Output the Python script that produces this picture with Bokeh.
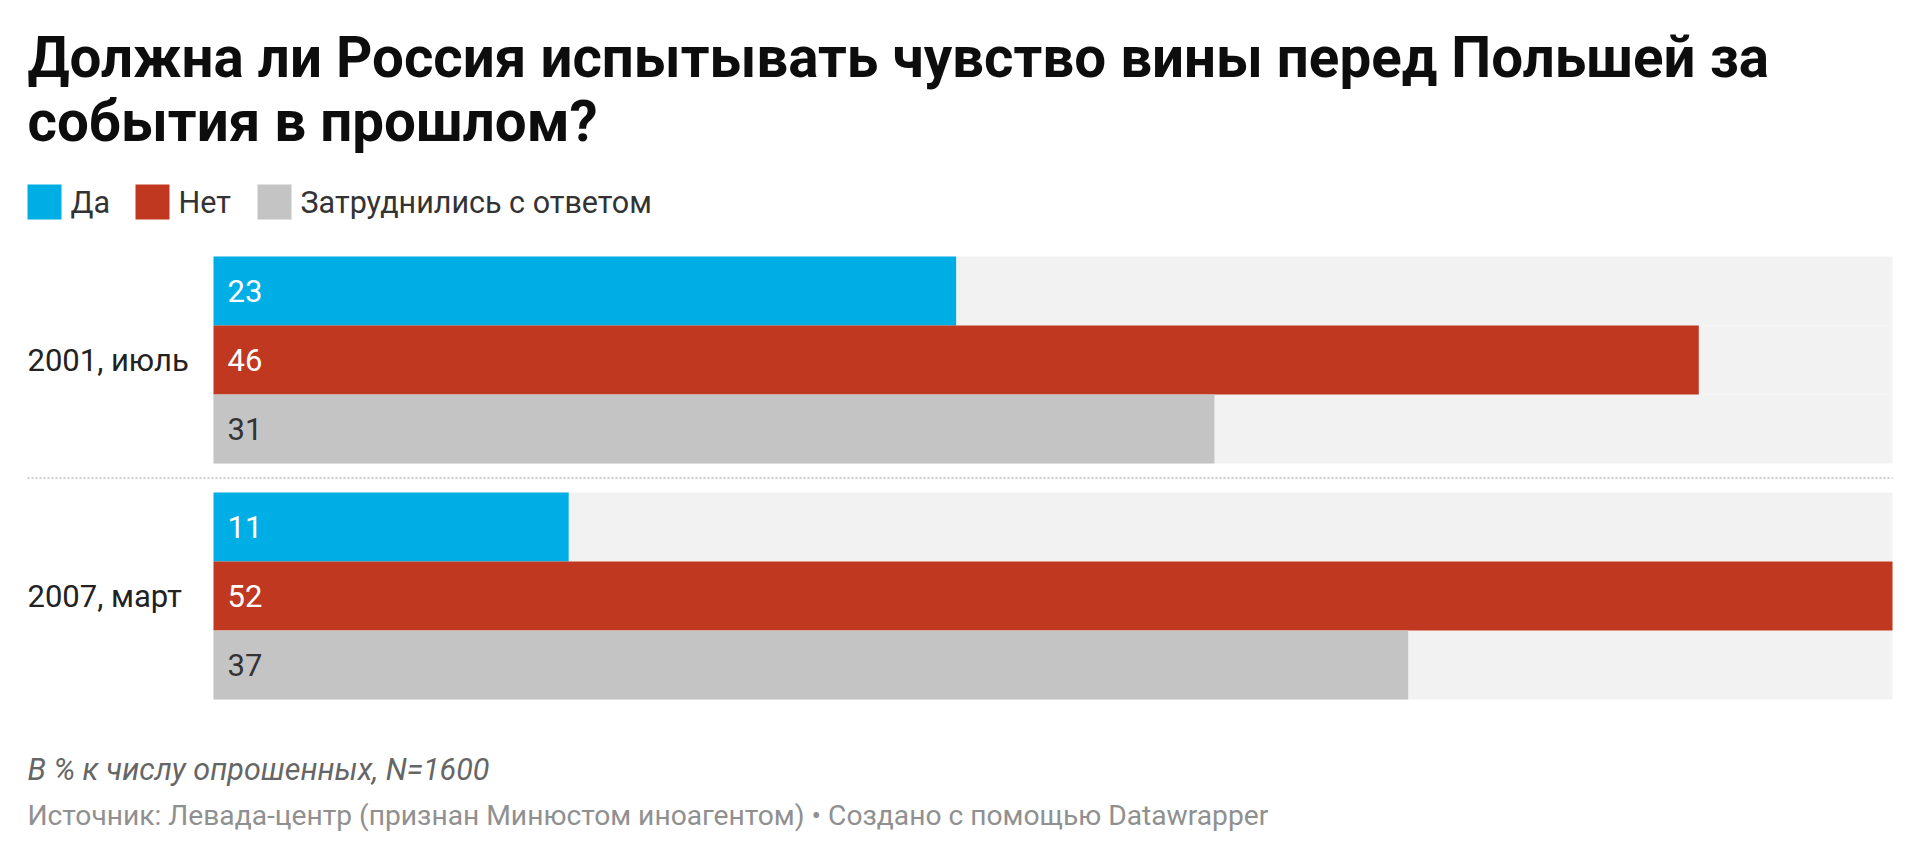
from bokeh.plotting import figure
from bokeh.models import ColumnDataSource, Range1d, Label, BoxAnnotation, Arrow
from bokeh.core.properties import value
from bokeh.embed import file_html
from bokeh.resources import INLINE

title_lines = ["Должна ли Россия испытывать чувство вины перед Польшей за",
               "события в прошлом?"]
groups = ["2001, июль", "2007, март"]
series = ["Да", "Нет", "Затруднились с ответом"]
da = [23, 11]
net = [46, 52]
zatr = [31, 37]
note = "В % к числу опрошенных, N=1600"
credit = "Источник: Левада-центр (признан Минюстом иноагентом) • Создано с помощью Datawrapper"

colors = ["#00aee6", "#bf381f", "#c4c4c4"]
text_colors = ["#ffffff", "#ffffff", "#333333"]
FONT = "Roboto"

W, H = 1904, 842
BAR_L, BAR_R = 213, 1892      # pixel span of 0..max
TOP, BAR_H, GROUP_GAP = 256, 69, 29

by_series = dict(zip(series, [da, net, zatr]))
xmax = max(da + net + zatr)
k = xmax / (BAR_R - BAR_L)

rows = dict(y=[], v=[], color=[], tcolor=[], txt=[])
group_mid = []
for gi, g in enumerate(groups):
    gtop = TOP + gi * (len(series) * BAR_H + GROUP_GAP)
    group_mid.append(gtop + len(series) * BAR_H / 2)
    for si, s in enumerate(series):
        v = by_series[s][gi]
        rows["y"].append(gtop + si * BAR_H + BAR_H / 2)
        rows["v"].append(v)
        rows["color"].append(colors[si])
        rows["tcolor"].append(text_colors[si])
        rows["txt"].append(str(v))
src = ColumnDataSource(rows)

p = figure(width=W, height=H,
           x_range=Range1d(-BAR_L * k, (W - BAR_L) * k),
           y_range=Range1d(H, 0),
           x_axis_location=None, y_axis_location=None,
           min_border=0, output_backend="svg", toolbar_location=None)
p.grid.visible = False
p.outline_line_color = None
p.background_fill_color = "white"
p.border_fill_color = "white"

p.hbar(y="y", left=0, right=xmax, height=BAR_H, source=src,
       fill_color="#f2f2f2", line_color=None)
p.hbar(y="y", left=0, right="v", height=BAR_H, source=src,
       fill_color="color", line_color=None)
p.text(x=0, y="y", text="txt", x_offset=14, source=src,
       text_color="tcolor", text_baseline="middle",
       text_font=value(FONT), text_font_size="31px")


def label(x, y, text, size, color, style="normal", baseline="middle"):
    p.add_layout(Label(x=x, y=y, x_units="screen", text=text, text_font=FONT,
                       text_font_style=style, text_font_size=size,
                       text_color=color, text_baseline=baseline))


# title
for line, base in zip(title_lines, [57, 121]):
    label(27, base, line, "56.5px", "#0d0d0d", "bold", "alphabetic")

# legend
leg_x = [27, 135, 257]
for s, c, lx in zip(series, colors, leg_x):
    p.add_layout(BoxAnnotation(left=lx, right=lx + 34, top=184, bottom=219,
                               left_units="screen", right_units="screen",
                               fill_color=c, fill_alpha=1, line_color=None))
    label(lx + 43, 202, s, "30.5px", "#333333")

# group labels
for g, cy in zip(groups, group_mid):
    label(27, cy, g, "31px", "#222222")

# dotted separator between groups
sep = TOP + len(series) * BAR_H + GROUP_GAP / 2
p.add_layout(Arrow(end=None, x_start=27, y_start=H - sep, x_end=BAR_R, y_end=H - sep,
                   start_units="screen", end_units="screen",
                   line_color="#cccccc", line_width=2, line_dash="2 2"))

# notes
label(27, 769, note, "30.5px", "#666666", "italic")
label(27, 815, credit, "28.2px", "#909090")

open("out.html", "w").write(file_html(p, INLINE))
